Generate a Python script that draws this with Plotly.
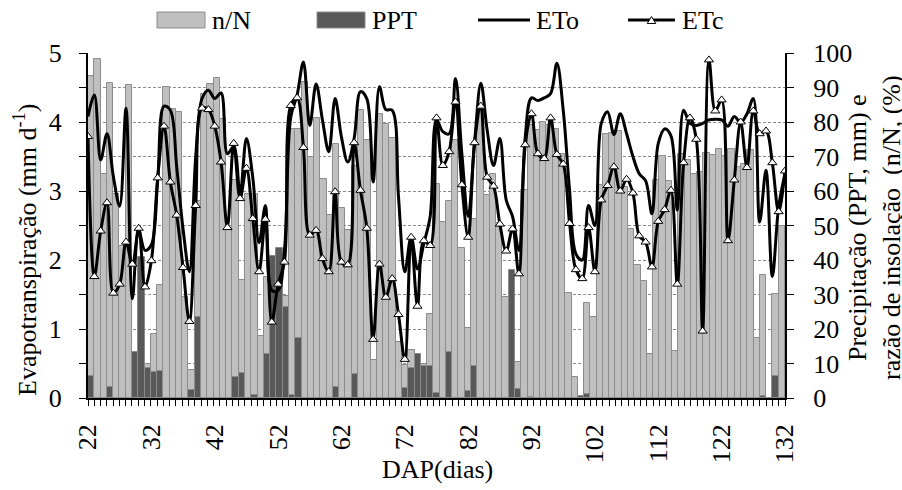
import plotly.graph_objects as go

# Days after planting (DAP)
days = list(range(22, 133))

# Sunshine ratio n/N (%) - right axis
n_N = [
    93.4, 98.4, 64.8, 91.2, 59, 44, 90.8, 8, 20, 10,        # 22-31
    18.6, 32.7, 90.2, 83.9, 82.8, 29.3, 8.2, 57.2, 88, 91.1,  # 32-41
    92.8, 81, 49, 63.3, 34.2, 59.2, 59, 18, 35, 13,          # 42-51
    10, 29.7, 78.1, 78.1, 91.6, 69.8, 81.3, 63.6, 53, 73.7,   # 52-61
    55.2, 48.6, 67.2, 83.6, 74.9, 11, 82.4, 79.3, 75.4, 16.3, # 62-71
    9.6, 14, 10, 10, 24.3, 62, 51, 57, 74.9, 43.6,            # 72-81
    20.2, 52, 83.6, 58.8, 65, 50.6, 29.2, 30, 10.5, 60.2,     # 82-91
    79, 77.6, 80, 79, 78, 70.8, 30.5, 6.2, 0.5, 27.4,         # 92-101
    23.4, 61.7, 76.6, 76.8, 77.4, 61.2, 49.1, 38.5, 34, 12.7, # 102-111
    63.1, 70.1, 62.9, 13.6, 70.7, 68.9, 65, 65.5, 71, 70.4,   # 112-121
    72.3, 70.1, 72.3, 67, 67.8, 72, 17.3, 35.6, 0, 30.1,      # 122-131
    49.8,                                                     # 132
]

# Precipitation PPT (mm) - right axis
ppt = [
    6.4, 0, 0, 3.1, 0, 0, 0, 13.4, 41, 8.6,
    7.6, 7.9, 0, 0, 0, 0, 2.3, 23.5, 0, 0,
    0, 0, 0, 6.0, 7.3, 0, 0.9, 0, 12.9, 41.2,
    43.5, 26.4, 0.9, 17.3, 0, 0, 0, 0, 0, 3.3,
    0, 0, 7.1, 0, 0, 0, 0, 0, 0, 0,
    2.8, 8.6, 12.7, 9.3, 9.3, 1.5, 0, 13.4, 0, 0,
    2.0, 9.3, 0, 0, 0, 0, 0, 37, 2.5, 0,
    0.4, 0, 0, 0, 0, 0, 0, 0, 0.6, 1.2,
    0, 0, 0, 0, 0, 0, 0, 0, 0, 0,
    0, 0, 0, 0, 0, 0, 0, 0, 0, 0,
    0, 0, 0, 0, 0, 0, 0, 0.6, 0, 6.4,
    0,
]

# Reference evapotranspiration ETo (mm/d) - left axis
eto = [
    4.08, 4.39, 3.45, 3.83, 3.21, 2.78, 4.20, 1.44, 2.43, 2.14,
    2.22, 3.16, 4.23, 4.17, 3.35, 2.45, 1.83, 3.50, 4.34, 4.46,
    4.34, 4.42, 3.54, 3.64, 2.96, 3.76, 3.20, 2.25, 2.79, 1.56,
    1.56, 2.14, 4.07, 4.39, 4.87, 3.95, 4.55, 4.03, 3.57, 4.34,
    3.78, 3.42, 3.76, 4.44, 4.34, 3.13, 4.51, 4.18, 4.17, 2.92,
    1.83, 2.34, 1.87, 2.24, 2.63, 4.03, 3.86, 3.83, 4.63, 3.54,
    2.63, 3.69, 4.56, 3.88, 3.37, 3.76, 2.87, 2.63, 2.14, 3.78,
    4.35, 4.31, 4.35, 4.41, 4.85, 4.17, 3.01, 2.09, 2.00, 2.79,
    2.50, 3.98, 4.15, 3.82, 4.12, 3.83, 3.50, 3.25, 3.15, 2.67,
    3.69, 3.90, 3.80, 2.72, 4.17, 3.98, 3.95, 3.98, 4.03, 4.04,
    4.03, 3.94, 4.08, 3.99, 4.12, 4.34, 2.55, 3.30, 1.76, 2.77,
    3.25,
]

# Crop evapotranspiration ETc (mm/d) - left axis
etc = [
    3.79, 1.76, 2.42, 2.83, 1.52, 1.65, 2.26, 1.94, 2.46, 1.61,
    1.99, 3.19, 3.94, 3.13, 2.65, 1.89, 1.11, 2.79, 4.20, 4.18,
    3.94, 3.42, 2.47, 3.69, 2.89, 3.33, 2.60, 1.83, 2.59, 1.10,
    1.65, 1.97, 4.24, 4.35, 3.63, 2.36, 2.43, 2.02, 1.83, 2.99,
    1.97, 1.93, 3.70, 3.01, 2.46, 0.85, 1.94, 1.46, 1.73, 1.21,
    0.56, 2.33, 1.33, 2.28, 2.21, 4.06, 3.37, 3.57, 4.29, 3.09,
    2.33, 3.70, 4.23, 3.20, 3.07, 2.52, 2.13, 2.45, 1.80, 3.67,
    4.12, 3.54, 3.47, 4.06, 3.53, 3.39, 2.53, 1.86, 1.73, 2.47,
    1.83, 2.87, 3.08, 3.35, 3.00, 3.17, 2.97, 2.35, 2.26, 1.90,
    2.56, 2.73, 3.01, 1.65, 3.41, 4.06, 3.75, 0.97, 4.90, 4.16,
    4.32, 2.28, 3.16, 4.00, 3.34, 4.16, 3.83, 3.87, 3.41, 2.70,
    3.29,
]

x_ticks = list(range(22, 133, 10))

# Figure geometry (pixels)
W, H = 902, 490
L, R, T, B = 88, 785, 53, 398
PW, PH = R - L, B - T


def px(x):
    return (x - L) / PW


def py(y):
    return (B - y) / PH


FONT = "Liberation Serif"
FS = 26
LIGHT = "#BFBFBF"
DARK = "#595959"
EDGE = "#8C8C8C"
TICKFONT = dict(family=FONT, size=FS, color="black")

fig = go.Figure()

fig.add_trace(go.Bar(
    x=days, y=n_N, name="n/N", width=1,
    marker=dict(color=LIGHT, line=dict(color=EDGE, width=1)),
    xaxis="x", yaxis="y",
))
fig.add_trace(go.Bar(
    x=days, y=ppt, name="PPT", width=1,
    marker=dict(color=DARK, line=dict(color=EDGE, width=1)),
    xaxis="x", yaxis="y",
))
fig.add_trace(go.Scatter(
    x=days, y=eto, name="ETo", mode="lines",
    line=dict(color="black", width=3, shape="spline", smoothing=1),
    xaxis="x2", yaxis="y2",
))
fig.add_trace(go.Scatter(
    x=days, y=etc, name="ETc", mode="lines+markers",
    line=dict(color="black", width=3, shape="spline", smoothing=1),
    marker=dict(symbol="triangle-up", size=8, color="white",
                line=dict(color="black", width=1)),
    xaxis="x2", yaxis="y2",
))

fig.update_layout(
    width=W, height=H,
    margin=dict(l=L, r=W - R, t=T, b=H - B, pad=0),
    paper_bgcolor="white", plot_bgcolor="white",
    barmode="overlay", bargap=0, showlegend=False,
    font=dict(family=FONT, size=FS, color="black"),
    xaxis=dict(
        range=[21.5, 132.5], tickmode="linear", tick0=21.5, dtick=1,
        ticks="outside", ticklen=6, tickwidth=1, tickcolor="black",
        showticklabels=False, showline=True, linecolor="black", linewidth=2,
        showgrid=False, zeroline=False,
    ),
    xaxis2=dict(
        range=[22, 132], overlaying="x", side="bottom",
        tickmode="array", tickvals=x_ticks, ticks="", tickangle=-90,
        showline=False, showgrid=False, zeroline=False,
        ticklabelstandoff=20, tickfont=TICKFONT,
    ),
    yaxis=dict(
        range=[0, 100], side="right", tickmode="linear", tick0=0, dtick=10,
        ticks="outside", ticklen=7, tickwidth=1, tickcolor="black",
        showline=True, linecolor="black", linewidth=2,
        showgrid=True, gridcolor="#8C8C8C", gridwidth=1, griddash="3px,2px",
        zeroline=False, ticklabelstandoff=14, tickfont=TICKFONT,
    ),
    yaxis2=dict(
        range=[0, 5], overlaying="y", side="left", tickmode="linear",
        tick0=0, dtick=1, ticks="outside", ticklen=7, tickwidth=1,
        tickcolor="black",
        minor=dict(dtick=0.5, ticks="outside", ticklen=7, tickwidth=1,
                   tickcolor="black"),
        showline=True, linecolor="black", linewidth=2,
        showgrid=False, zeroline=False, ticklabelstandoff=12,
        tickfont=TICKFONT,
    ),
)

annotations = [
    dict(x=px(25), y=py(250), text="Evapotranspiração (mm d<sup>-1</sup>)",
         textangle=-90),
    dict(x=px(874), y=py(228),
         text="Precipitação (PPT, mm) e<br>razão de insolação\u00a0 (n/N, (%)",
         textangle=-90),
    dict(x=px(437), y=py(470), text="DAP(dias)"),
]
for a in annotations:
    a.update(xref="paper", yref="paper", showarrow=False,
             xanchor="center", yanchor="middle",
             font=dict(family=FONT, size=FS, color="black"))

# Legend: keys and labels across the top
leg_y = 20
legend_labels = [("n/N", 210), ("PPT", 370), ("ETo", 534), ("ETc", 680)]
for label, x_left in legend_labels:
    annotations.append(dict(
        x=px(x_left), y=py(leg_y), xref="paper", yref="paper", text=label,
        showarrow=False, xanchor="left", yanchor="middle",
        font=dict(family=FONT, size=FS, color="black"),
    ))

shapes = [
    dict(type="rect", xref="paper", yref="paper",
         x0=px(157), x1=px(205), y0=py(28), y1=py(12),
         fillcolor=LIGHT, line=dict(color=EDGE, width=1)),
    dict(type="rect", xref="paper", yref="paper",
         x0=px(317), x1=px(365), y0=py(28), y1=py(12),
         fillcolor=DARK, line=dict(color=EDGE, width=1)),
    dict(type="line", xref="paper", yref="paper",
         x0=px(478), x1=px(530), y0=py(leg_y), y1=py(leg_y),
         line=dict(color="black", width=3)),
    dict(type="line", xref="paper", yref="paper",
         x0=px(628), x1=px(675), y0=py(leg_y), y1=py(leg_y),
         line=dict(color="black", width=3)),
]
tx, th, tw = 651.5, 7, 8.5
tri = "M{:.5f},{:.5f} L{:.5f},{:.5f} L{:.5f},{:.5f} Z".format(
    px(tx - tw / 2), py(leg_y + th / 2),
    px(tx + tw / 2), py(leg_y + th / 2),
    px(tx), py(leg_y - th / 2),
)
shapes.append(dict(type="path", xref="paper", yref="paper", path=tri,
                   fillcolor="white", line=dict(color="black", width=1)))

fig.update_layout(annotations=annotations, shapes=shapes)

fig.write_html("out.html")
